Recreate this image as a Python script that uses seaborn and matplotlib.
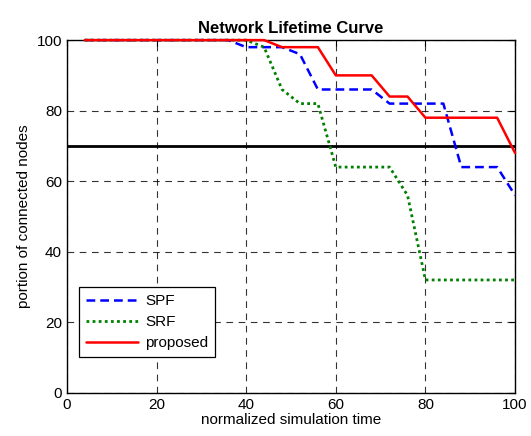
import numpy as np
import pandas as pd
import matplotlib
matplotlib.use("Agg")
import matplotlib.pyplot as plt
import seaborn as sns

# normalized simulation time (sampled every 4 units)
t = list(range(4, 101, 4))

spf = [100, 100, 100, 100, 100, 100, 100, 100, 100, 98, 98, 98, 96,
       86, 86, 86, 86, 82, 82, 82, 82, 64, 64, 64, 56]
srf = [100, 100, 100, 100, 100, 100, 100, 100, 100, 100, 98, 86, 82,
       82, 64, 64, 64, 64, 56, 32, 32, 32, 32, 32, 32]
proposed = [100, 100, 100, 100, 100, 100, 100, 100, 100, 100, 100, 98, 98,
            98, 90, 90, 90, 84, 84, 78, 78, 78, 78, 78, 68]
threshold = 70

sns.set_style("white")
plt.rcParams['font.family'] = ['Liberation Sans', 'DejaVu Sans']
plt.rcParams['text.color'] = 'black'
plt.rcParams['axes.labelcolor'] = 'black'

fig = plt.figure(figsize=(5.31, 4.36), dpi=100)
ax = fig.add_axes([0.126, 0.099, 0.844, 0.809])

sns.lineplot(x=t, y=spf, ax=ax, color="#0000ff", linestyle=(0, (3.5, 2)),
             lw=1.8, label="SPF", zorder=3, clip_on=False)
sns.lineplot(x=t, y=srf, ax=ax, color="#008000", linestyle=(0, (1, 1.2)),
             lw=2.0, label="SRF", zorder=3, clip_on=False)
sns.lineplot(x=t, y=proposed, ax=ax, color="#ff0000", lw=1.8, label="proposed",
             zorder=3, clip_on=False)
ax.axhline(threshold, color="black", lw=2)

ax.set_xlim(0, 100)
ax.set_ylim(0, 100)
ax.set_xticks(range(0, 101, 20))
ax.set_yticks(range(0, 101, 20))
ax.grid(True, color="black", linestyle=(0, (6, 5)), lw=0.8, alpha=0.8)
ax.tick_params(direction="in", length=4, top=True, right=True,
               labelsize=11, colors="black", width=0.8)
for s in ax.spines.values():
    s.set_color("black")
    s.set_linewidth(1.0)

ax.set_title("Network Lifetime Curve", fontsize=12, fontweight="bold", pad=5)
ax.set_xlabel("normalized simulation time", fontsize=11, labelpad=1)
ax.set_ylabel("portion of connected nodes", fontsize=11, labelpad=4)

leg = ax.legend(loc="lower left", bbox_to_anchor=(0.01, 0.08), fontsize=11,
                frameon=True, fancybox=False, framealpha=1, edgecolor="black",
                handlelength=3.4, borderpad=0.45, labelspacing=0.45,
                handletextpad=0.5)
leg.get_frame().set_linewidth(0.9)

fig.savefig("out.png", dpi=100)
